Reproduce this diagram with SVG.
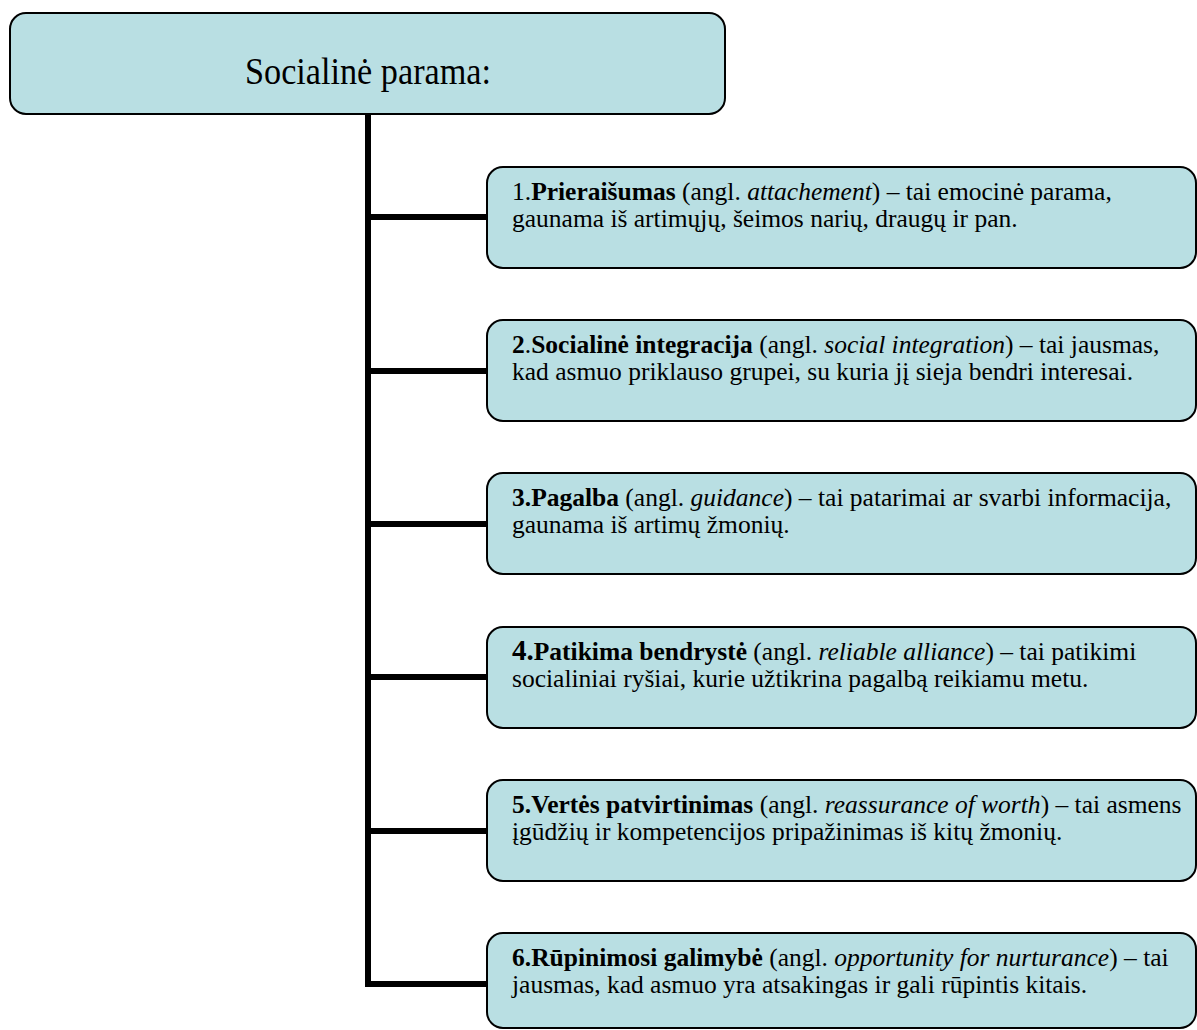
<svg xmlns="http://www.w3.org/2000/svg" width="1197" height="1030" viewBox="0 0 1197 1030">
<style>
.box{fill:#b9dfe3;stroke:#000;stroke-width:2}
.t{font-family:"Liberation Serif","Times New Roman",serif;font-size:25.5px;fill:#000}
.title{font-family:"Liberation Serif","Times New Roman",serif;font-size:38px;fill:#000}
.b{font-weight:bold}
.i{font-style:italic}
.conn{stroke:#000;stroke-width:6;fill:none}
</style>
<rect width="1197" height="1030" fill="#fff"/>
<g id="connectors">
<polyline class="conn" points="368,115 368,984 487,984"/>
<line class="conn" x1="368" y1="217" x2="487" y2="217"/>
<line class="conn" x1="368" y1="371" x2="487" y2="371"/>
<line class="conn" x1="368" y1="524" x2="487" y2="524"/>
<line class="conn" x1="368" y1="677" x2="487" y2="677"/>
<line class="conn" x1="368" y1="831" x2="487" y2="831"/>
</g>
<g id="root">
<rect class="box" x="10" y="13" width="715" height="101" rx="16"/>
<text class="title" x="368" y="84" text-anchor="middle" textLength="246" lengthAdjust="spacingAndGlyphs">Socialinė parama:</text>
</g>
<g id="n1">
<rect class="box" x="487" y="167" width="709" height="101" rx="16"/>
<text class="t" x="512" y="200"><tspan>1.</tspan><tspan class="b">Prieraišumas</tspan> (angl. <tspan class="i">attachement</tspan>) – tai emocinė parama,</text>
<text class="t" x="512" y="227">gaunama iš artimųjų, šeimos narių, draugų ir pan.</text>
</g>
<g id="n2">
<rect class="box" x="487" y="320" width="709" height="101" rx="16"/>
<text class="t" x="512" y="353"><tspan class="b">2</tspan>.<tspan class="b">Socialinė integracija</tspan> (angl. <tspan class="i">social integration</tspan>) – tai jausmas,</text>
<text class="t" x="512" y="380">kad asmuo priklauso grupei, su kuria jį sieja bendri interesai.</text>
</g>
<g id="n3">
<rect class="box" x="487" y="473" width="709" height="101" rx="16"/>
<text class="t" x="512" y="506"><tspan class="b">3.Pagalba</tspan> (angl. <tspan class="i">guidance</tspan>) – tai patarimai ar svarbi informacija,</text>
<text class="t" x="512" y="533">gaunama iš artimų žmonių.</text>
</g>
<g id="n4">
<rect class="box" x="487" y="627" width="709" height="101" rx="16"/>
<text class="t" x="512" y="660"><tspan class="b" font-size="29px">4.</tspan><tspan class="b">Patikima bendrystė</tspan> (angl. <tspan class="i">reliable alliance</tspan>) – tai patikimi</text>
<text class="t" x="512" y="687">socialiniai ryšiai, kurie užtikrina pagalbą reikiamu metu.</text>
</g>
<g id="n5">
<rect class="box" x="487" y="780" width="709" height="101" rx="16"/>
<text class="t" x="512" y="813"><tspan class="b">5.Vertės patvirtinimas</tspan> (angl. <tspan class="i">reassurance of worth</tspan>) – tai asmens</text>
<text class="t" x="512" y="840">įgūdžių ir kompetencijos pripažinimas iš kitų žmonių.</text>
</g>
<g id="n6">
<rect class="box" x="487" y="933" width="709" height="95" rx="16"/>
<text class="t" x="512" y="966"><tspan class="b">6.Rūpinimosi galimybė</tspan> (angl. <tspan class="i">opportunity for nurturance</tspan>) – tai</text>
<text class="t" x="512" y="993">jausmas, kad asmuo yra atsakingas ir gali rūpintis kitais.</text>
</g>
</svg>
